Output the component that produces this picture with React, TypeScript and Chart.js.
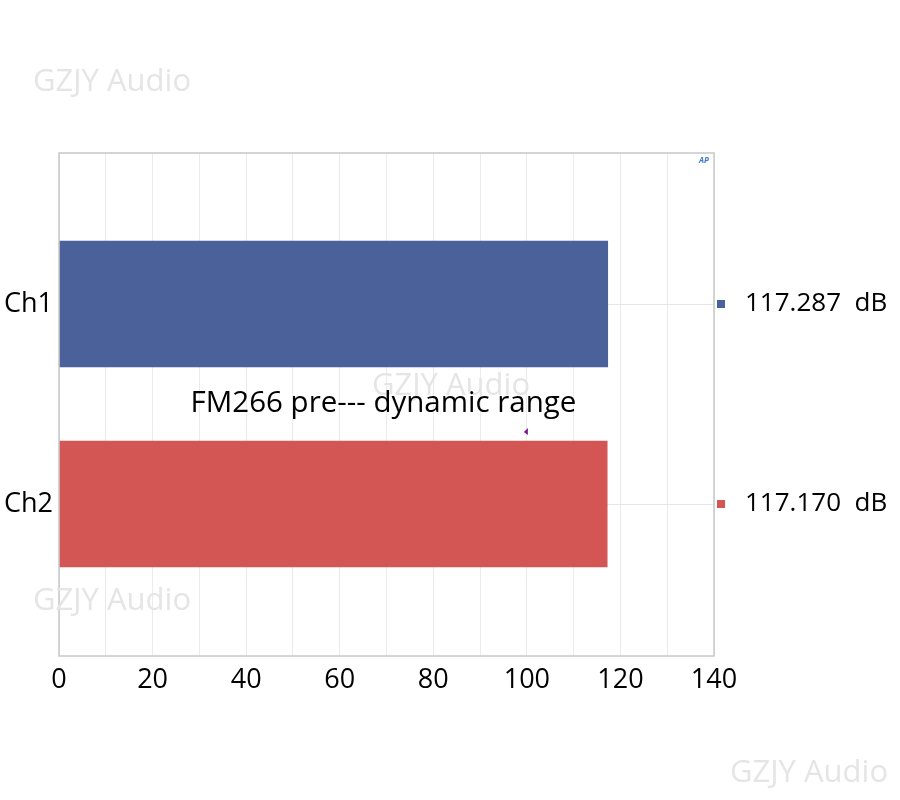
import React, { useEffect, useRef } from 'react';
import { Chart, registerables } from 'chart.js';

Chart.register(...registerables);

const channels = ['Ch1', 'Ch2'];
const positions = [1, 2];
const dynamicRange = [117.287, 117.17];
const valueLabels = ['117.287  dB', '117.170  dB'];
const barColors = ['#4a6299', '#d35654'];
const xTicks = [0, 20, 40, 60, 80, 100, 120, 140];
const title = 'FM266 pre--- dynamic range';
const watermark = 'GZJY Audio';

const FONT = '"Open Sans", "Noto Sans", sans-serif';

const decorations = {
  id: 'decorations',
  afterDraw(chart) {
    const { ctx, chartArea: area, scales } = chart;
    const y = scales.y;
    const x = scales.x;
    ctx.save();

    // plot frame
    ctx.strokeStyle = '#c8c8c8';
    ctx.lineWidth = 1.5;
    ctx.strokeRect(area.left, area.top, area.right - area.left, area.bottom - area.top);

    // little legend squares next to the right labels
    positions.forEach((p, i) => {
      const py = y.getPixelForValue(p);
      ctx.fillStyle = barColors[i];
      ctx.fillRect(area.right + 3, py - 4, 8, 8);
    });

    // watermarks
    ctx.font = `31px ${FONT}`;
    ctx.fillStyle = '#e5e5e5';
    ctx.textBaseline = 'middle';
    ctx.textAlign = 'left';
    ctx.fillText(watermark, 33, 82);
    ctx.fillText(watermark, 372, 386);
    ctx.fillText(watermark, 33, 601);
    ctx.fillText(watermark, 730, 773);

    // AP logo
    ctx.font = `italic bold 8px ${FONT}`;
    ctx.fillStyle = '#3b7cc4';
    ctx.textAlign = 'center';
    ctx.fillText('AP', area.right - 10, area.top + 8);

    // small cursor mark
    const cx = x.getPixelForValue(100);
    const cy = y.getPixelForValue(1.64);
    ctx.fillStyle = '#7a1a8a';
    ctx.beginPath();
    ctx.moveTo(cx - 3, cy);
    ctx.lineTo(cx + 1, cy - 4);
    ctx.lineTo(cx + 1, cy + 3);
    ctx.closePath();
    ctx.fill();

    // title in the middle of the plot
    ctx.font = `29.5px ${FONT}`;
    ctx.fillStyle = '#000';
    ctx.textAlign = 'center';
    ctx.fillText(title, (area.left + area.right) / 2 - 3, y.getPixelForValue(1.5));

    ctx.restore();
  },
};

const setTicks = (scale) => {
  scale.ticks = positions.map((v) => ({ value: v }));
};

export default function App() {
  const canvasRef = useRef(null);

  useEffect(() => {
    document.body.style.margin = '0';
    const chart = new Chart(canvasRef.current, {
      type: 'bar',
      data: {
        datasets: [
          {
            data: positions.map((p, i) => ({ x: dynamicRange[i], y: p })),
            backgroundColor: barColors,
            borderWidth: 0,
            barThickness: 126,
          },
        ],
      },
      options: {
        indexAxis: 'y',
        animation: false,
        responsive: true,
        maintainAspectRatio: false,
        layout: { padding: { top: 153, left: 0, right: 0, bottom: 0 } },
        plugins: {
          legend: { display: false },
          tooltip: { enabled: false },
          title: { display: false },
        },
        scales: {
          x: {
            type: 'linear',
            min: 0,
            max: 140,
            ticks: {
              stepSize: 10,
              autoSkip: false,
              maxRotation: 0,
              padding: 8,
              color: '#000',
              font: { family: FONT, size: 27 },
              callback: (v) => (xTicks.includes(v) ? String(v) : ''),
            },
            grid: { color: '#ebebeb', drawTicks: false },
            border: { display: false },
            afterFit: (s) => {
              s.height = 144;
            },
          },
          y: {
            type: 'linear',
            min: 0.245,
            max: 2.76,
            reverse: true,
            offset: false,
            afterBuildTicks: setTicks,
            ticks: {
              padding: 6,
              color: '#000',
              font: { family: FONT, size: 27 },
              callback: (v) => channels[positions.indexOf(v)] ?? '',
            },
            grid: { color: '#e6e6e6', drawTicks: false, offset: false },
            border: { display: false },
            afterFit: (s) => {
              s.width = 59;
            },
          },
          yR: {
            type: 'linear',
            position: 'right',
            min: 0.245,
            max: 2.76,
            reverse: true,
            offset: false,
            afterBuildTicks: setTicks,
            ticks: {
              padding: 23,
              color: '#000',
              font: { family: FONT, size: 26 },
              callback: (v) => valueLabels[positions.indexOf(v)] ?? '',
            },
            grid: { display: false, offset: false },
            border: { display: false },
            afterFit: (s) => {
              s.width = 186;
            },
          },
        },
      },
      plugins: [decorations],
    });
    return () => chart.destroy();
  }, []);

  return (
    <div style={{ position: 'relative', width: 900, height: 800, background: '#fff' }}>
      <canvas ref={canvasRef} />
    </div>
  );
}
